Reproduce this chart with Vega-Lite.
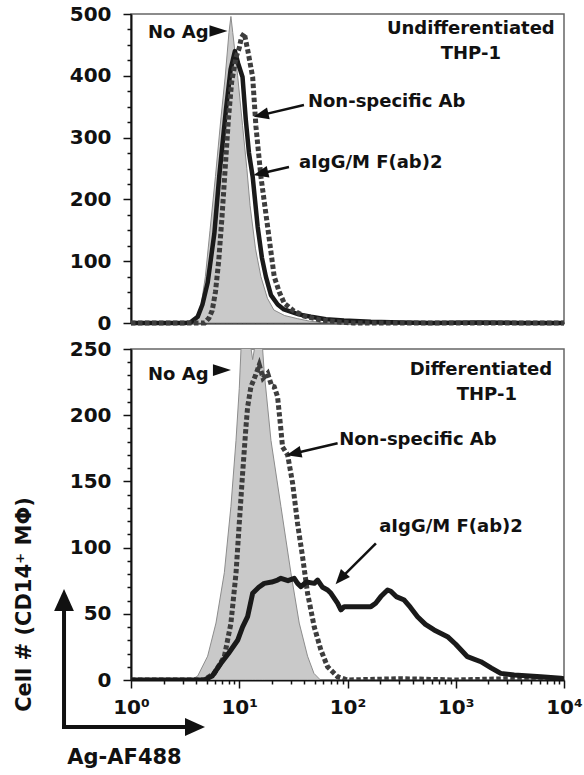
{
  "$schema": "https://vega.github.io/schema/vega-lite/v6.json",
  "background": "white",
  "padding": {"left": 12, "top": 3, "right": 0, "bottom": 0},
  "config": {
    "view": {"stroke": "#666", "strokeWidth": 1.5},
    "font": "DejaVu Sans",
    "axis": {"grid": false, "labelFont": "DejaVu Sans", "labelFontWeight": "bold", "labelFontSize": 20, "labelColor": "#111", "tickColor": "#111", "tickWidth": 1.5, "domainColor": "#111", "domainWidth": 2, "labelOverlap": false, "labelFlush": false, "titleFont": "DejaVu Sans", "titleFontWeight": "bold", "titleColor": "#111"}
  },
  "datasets": {
    "top_curves": [
      {"series": "No Ag", "x": 1, "y": 0}, {"series": "No Ag", "x": 2.818, "y": 0}, {"series": "No Ag", "x": 3.436, "y": 1}, {"series": "No Ag", "x": 3.89, "y": 5}, {"series": "No Ag", "x": 4.365, "y": 20}, {"series": "No Ag", "x": 4.864, "y": 75}, {"series": "No Ag", "x": 5.37, "y": 150}, {"series": "No Ag", "x": 6.026, "y": 237}, {"series": "No Ag", "x": 6.761, "y": 330}, {"series": "No Ag", "x": 7.413, "y": 398}, {"series": "No Ag", "x": 8.035, "y": 470}, {"series": "No Ag", "x": 8.375, "y": 496}, {"series": "No Ag", "x": 8.71, "y": 470}, {"series": "No Ag", "x": 9.661, "y": 400}, {"series": "No Ag", "x": 10.72, "y": 320}, {"series": "No Ag", "x": 11.75, "y": 250}, {"series": "No Ag", "x": 12.59, "y": 190}, {"series": "No Ag", "x": 14.13, "y": 120}, {"series": "No Ag", "x": 15.85, "y": 75}, {"series": "No Ag", "x": 18.2, "y": 40}, {"series": "No Ag", "x": 20.89, "y": 21}, {"series": "No Ag", "x": 26.3, "y": 12}, {"series": "No Ag", "x": 34.67, "y": 7}, {"series": "No Ag", "x": 44.67, "y": 3}, {"series": "No Ag", "x": 56.23, "y": 1}, {"series": "No Ag", "x": 79.43, "y": 0}, {"series": "No Ag", "x": 10000, "y": 0},
      {"series": "aIgG", "x": 1, "y": 0}, {"series": "aIgG", "x": 3.162, "y": 0}, {"series": "aIgG", "x": 3.548, "y": 1}, {"series": "aIgG", "x": 4.13, "y": 10}, {"series": "aIgG", "x": 4.571, "y": 30}, {"series": "aIgG", "x": 5.105, "y": 65}, {"series": "aIgG", "x": 5.888, "y": 145}, {"series": "aIgG", "x": 6.531, "y": 237}, {"series": "aIgG", "x": 7.534, "y": 345}, {"series": "aIgG", "x": 8.318, "y": 410}, {"series": "aIgG", "x": 9.12, "y": 440}, {"series": "aIgG", "x": 9.772, "y": 420}, {"series": "aIgG", "x": 10.72, "y": 398}, {"series": "aIgG", "x": 11.48, "y": 330}, {"series": "aIgG", "x": 12.3, "y": 275}, {"series": "aIgG", "x": 13.3, "y": 237}, {"series": "aIgG", "x": 14.79, "y": 156}, {"series": "aIgG", "x": 16.22, "y": 105}, {"series": "aIgG", "x": 17.62, "y": 75}, {"series": "aIgG", "x": 19.63, "y": 45}, {"series": "aIgG", "x": 22.65, "y": 30}, {"series": "aIgG", "x": 25.88, "y": 22}, {"series": "aIgG", "x": 35.48, "y": 14}, {"series": "aIgG", "x": 45.92, "y": 10}, {"series": "aIgG", "x": 63.1, "y": 6}, {"series": "aIgG", "x": 92.68, "y": 4}, {"series": "aIgG", "x": 164.4, "y": 2}, {"series": "aIgG", "x": 316.2, "y": 1}, {"series": "aIgG", "x": 588.8, "y": 0}, {"series": "aIgG", "x": 1585, "y": 1}, {"series": "aIgG", "x": 3981, "y": 0}, {"series": "aIgG", "x": 10000, "y": 0},
      {"series": "Non-specific", "x": 1, "y": 0}, {"series": "Non-specific", "x": 3.981, "y": 0}, {"series": "Non-specific", "x": 4.786, "y": 0}, {"series": "Non-specific", "x": 5.248, "y": 8}, {"series": "Non-specific", "x": 5.623, "y": 20}, {"series": "Non-specific", "x": 6.026, "y": 50}, {"series": "Non-specific", "x": 6.457, "y": 100}, {"series": "Non-specific", "x": 6.918, "y": 170}, {"series": "Non-specific", "x": 7.413, "y": 250}, {"series": "Non-specific", "x": 7.943, "y": 330}, {"series": "Non-specific", "x": 8.511, "y": 390}, {"series": "Non-specific", "x": 9.333, "y": 430}, {"series": "Non-specific", "x": 10, "y": 445}, {"series": "Non-specific", "x": 10.47, "y": 462}, {"series": "Non-specific", "x": 11.12, "y": 469}, {"series": "Non-specific", "x": 12.02, "y": 440}, {"series": "Non-specific", "x": 13.3, "y": 398}, {"series": "Non-specific", "x": 14.26, "y": 318}, {"series": "Non-specific", "x": 15.85, "y": 237}, {"series": "Non-specific", "x": 18.28, "y": 156}, {"series": "Non-specific", "x": 21.04, "y": 75}, {"series": "Non-specific", "x": 23.44, "y": 50}, {"series": "Non-specific", "x": 26.06, "y": 32}, {"series": "Non-specific", "x": 31.62, "y": 20}, {"series": "Non-specific", "x": 39.81, "y": 11}, {"series": "Non-specific", "x": 56.23, "y": 5}, {"series": "Non-specific", "x": 79.43, "y": 2}, {"series": "Non-specific", "x": 112.2, "y": 0}, {"series": "Non-specific", "x": 10000, "y": 0}
    ],
    "bot_curves": [
      {"series": "No Ag", "x": 1, "y": 0}, {"series": "No Ag", "x": 3.581, "y": 0}, {"series": "No Ag", "x": 4.13, "y": 3}, {"series": "No Ag", "x": 5.105, "y": 18}, {"series": "No Ag", "x": 6.095, "y": 43}, {"series": "No Ag", "x": 7.278, "y": 81}, {"series": "No Ag", "x": 8.375, "y": 131}, {"series": "No Ag", "x": 9.333, "y": 181}, {"series": "No Ag", "x": 10, "y": 220}, {"series": "No Ag", "x": 10.38, "y": 250}, {"series": "No Ag", "x": 11.48, "y": 262}, {"series": "No Ag", "x": 12.59, "y": 255}, {"series": "No Ag", "x": 13.3, "y": 242}, {"series": "No Ag", "x": 14.13, "y": 255}, {"series": "No Ag", "x": 15.31, "y": 262}, {"series": "No Ag", "x": 16.44, "y": 250}, {"series": "No Ag", "x": 17.02, "y": 232}, {"series": "No Ag", "x": 19.63, "y": 181}, {"series": "No Ag", "x": 24.27, "y": 131}, {"series": "No Ag", "x": 29.99, "y": 81}, {"series": "No Ag", "x": 35.81, "y": 43}, {"series": "No Ag", "x": 42.76, "y": 18}, {"series": "No Ag", "x": 48.98, "y": 5}, {"series": "No Ag", "x": 56.23, "y": 0}, {"series": "No Ag", "x": 10000, "y": 0},
      {"series": "aIgG", "x": 1, "y": 0}, {"series": "aIgG", "x": 4.753, "y": 0}, {"series": "aIgG", "x": 5.623, "y": 3}, {"series": "aIgG", "x": 6.776, "y": 12.6}, {"series": "aIgG", "x": 7.943, "y": 20}, {"series": "aIgG", "x": 9.661, "y": 30}, {"series": "aIgG", "x": 10.72, "y": 40}, {"series": "aIgG", "x": 11.94, "y": 47.8}, {"series": "aIgG", "x": 13.3, "y": 65.5}, {"series": "aIgG", "x": 15.14, "y": 70}, {"series": "aIgG", "x": 17.02, "y": 73}, {"series": "aIgG", "x": 19.95, "y": 74}, {"series": "aIgG", "x": 22.59, "y": 75.5}, {"series": "aIgG", "x": 24.27, "y": 76.8}, {"series": "aIgG", "x": 28.18, "y": 75}, {"series": "aIgG", "x": 32.21, "y": 76.8}, {"series": "aIgG", "x": 34.59, "y": 73}, {"series": "aIgG", "x": 37.15, "y": 70.5}, {"series": "aIgG", "x": 41.69, "y": 74}, {"series": "aIgG", "x": 49.32, "y": 73}, {"series": "aIgG", "x": 52.97, "y": 75.5}, {"series": "aIgG", "x": 58.88, "y": 70}, {"series": "aIgG", "x": 65.46, "y": 68}, {"series": "aIgG", "x": 70.31, "y": 65.5}, {"series": "aIgG", "x": 80.91, "y": 58}, {"series": "aIgG", "x": 86.9, "y": 53}, {"series": "aIgG", "x": 93.33, "y": 55.4}, {"series": "aIgG", "x": 123.9, "y": 55.4}, {"series": "aIgG", "x": 164.4, "y": 55.4}, {"series": "aIgG", "x": 182, "y": 58}, {"series": "aIgG", "x": 203.2, "y": 63}, {"series": "aIgG", "x": 234.4, "y": 68}, {"series": "aIgG", "x": 251.2, "y": 67}, {"series": "aIgG", "x": 281.8, "y": 63}, {"series": "aIgG", "x": 334.2, "y": 60.4}, {"series": "aIgG", "x": 380.2, "y": 55}, {"series": "aIgG", "x": 443.6, "y": 47.8}, {"series": "aIgG", "x": 524.8, "y": 42}, {"series": "aIgG", "x": 631, "y": 37.8}, {"series": "aIgG", "x": 839.5, "y": 32.7}, {"series": "aIgG", "x": 1000, "y": 27}, {"series": "aIgG", "x": 1282, "y": 17.6}, {"series": "aIgG", "x": 1706, "y": 13.8}, {"series": "aIgG", "x": 2138, "y": 9}, {"series": "aIgG", "x": 2606, "y": 5}, {"series": "aIgG", "x": 3467, "y": 3.8}, {"series": "aIgG", "x": 6109, "y": 2.5}, {"series": "aIgG", "x": 9333, "y": 1.3}, {"series": "aIgG", "x": 10000, "y": 1},
      {"series": "Non-specific", "x": 1, "y": 0}, {"series": "Non-specific", "x": 4.753, "y": 0}, {"series": "Non-specific", "x": 5.875, "y": 5}, {"series": "Non-specific", "x": 7.278, "y": 17.6}, {"series": "Non-specific", "x": 8.375, "y": 42.8}, {"series": "Non-specific", "x": 9.333, "y": 80.6}, {"series": "Non-specific", "x": 10, "y": 118}, {"series": "Non-specific", "x": 10.74, "y": 156}, {"series": "Non-specific", "x": 11.53, "y": 191}, {"series": "Non-specific", "x": 11.94, "y": 206}, {"series": "Non-specific", "x": 12.82, "y": 221.5}, {"series": "Non-specific", "x": 14.13, "y": 230}, {"series": "Non-specific", "x": 15.31, "y": 238}, {"series": "Non-specific", "x": 16.6, "y": 228}, {"series": "Non-specific", "x": 18.28, "y": 231.6}, {"series": "Non-specific", "x": 19.95, "y": 222}, {"series": "Non-specific", "x": 21.04, "y": 221.5}, {"series": "Non-specific", "x": 22.59, "y": 214}, {"series": "Non-specific", "x": 23.93, "y": 194}, {"series": "Non-specific", "x": 25.12, "y": 176}, {"series": "Non-specific", "x": 27.99, "y": 170}, {"series": "Non-specific", "x": 31.12, "y": 148.6}, {"series": "Non-specific", "x": 34.59, "y": 118}, {"series": "Non-specific", "x": 38.46, "y": 93}, {"series": "Non-specific", "x": 42.76, "y": 65.5}, {"series": "Non-specific", "x": 49.32, "y": 40}, {"series": "Non-specific", "x": 56.75, "y": 22.7}, {"series": "Non-specific", "x": 65.46, "y": 10}, {"series": "Non-specific", "x": 80.91, "y": 2.5}, {"series": "Non-specific", "x": 100, "y": 0}, {"series": "Non-specific", "x": 316.2, "y": 1}, {"series": "Non-specific", "x": 1000, "y": 0}, {"series": "Non-specific", "x": 3162, "y": 1}, {"series": "Non-specific", "x": 10000, "y": 0}
    ],
    "top_notes": [
      {"kind": "tag", "label": "No Ag", "x": 1.436, "y": 469},
      {"kind": "marker", "label": "", "x": 6.43, "y": 472.5},
      {"kind": "title", "label": "Undifferentiated", "x": 1378, "y": 476.5},
      {"kind": "title", "label": "THP-1", "x": 1378, "y": 436},
      {"kind": "callout", "label": "Non-specific Ab", "x": 43.1, "y": 357.6},
      {"kind": "callout", "label": "aIgG/M F(ab)2", "x": 35.6, "y": 258.9}
    ],
    "bot_notes": [
      {"kind": "tag", "label": "No Ag", "x": 1.436, "y": 230.4},
      {"kind": "marker", "label": "", "x": 6.92, "y": 234.1},
      {"kind": "title", "label": "Differentiated", "x": 1706, "y": 234.1},
      {"kind": "title", "label": "THP-1", "x": 1936, "y": 215.3},
      {"kind": "callout", "label": "Non-specific Ab", "x": 83.8, "y": 181.3},
      {"kind": "callout", "label": "aIgG/M F(ab)2", "x": 196.3, "y": 115.8}
    ],
    "top_arrows": [
      {"target": "Non-specific Ab", "x": 39.6, "y": 352.7, "x2": 15.9, "y2": 336.4},
      {"target": "aIgG/M F(ab)2", "x": 28.8, "y": 252.4, "x2": 15.8, "y2": 242}
    ],
    "bot_arrows": [
      {"target": "Non-specific Ab", "x": 81, "y": 178.8, "x2": 31.9, "y2": 171.1},
      {"target": "aIgG/M F(ab)2", "x": 183, "y": 103.2, "x2": 86.2, "y2": 76.5}
    ],
    "bot_axes": [
      {"dir": "up", "x": 0.2406, "y": -35.5, "x2": 0.2406, "y2": 60.4},
      {"dir": "right", "x": 0.2406, "y": -35.5, "x2": 3.9, "y2": -35.5}
    ]
  },
  "spacing": 26,
  "bounds": "flush",
  "vconcat": [
    {
      "width": 433,
      "height": 309,
      "encoding": {
        "x": {"field": "x", "type": "quantitative", "scale": {"type": "log", "domain": [1, 10000], "nice": false}, "axis": {"labels": false, "ticks": false, "title": null}},
        "y": {"field": "y", "type": "quantitative", "scale": {"domain": [0, 500], "nice": false}, "axis": {"values": [0, 25, 50, 75, 100, 125, 150, 175, 200, 225, 250, 275, 300, 325, 350, 375, 400, 425, 450, 475, 500], "labelExpr": "datum.value % 100 === 0 ? datum.label : ''", "tickSize": {"condition": {"test": "datum.value % 100 !== 0", "value": 4}, "value": 8}, "labelPadding": 12, "title": null}}
      },
      "layer": [
        {"data": {"name": "top_curves"}, "transform": [{"filter": "datum.series === 'No Ag'"}], "mark": {"type": "area", "fill": "#c9c9c9", "stroke": "#8c8c8c", "strokeWidth": 1}},
        {"data": {"name": "top_curves"}, "transform": [{"filter": "datum.series === 'aIgG'"}], "mark": {"type": "line", "stroke": "#1a1a1a", "strokeWidth": 4.5, "strokeJoin": "round"}},
        {"data": {"name": "top_curves"}, "transform": [{"filter": "datum.series === 'Non-specific'"}], "mark": {"type": "line", "stroke": "#3d3d3d", "strokeWidth": 5, "strokeDash": [4.5, 2.5]}},
        {"data": {"name": "top_arrows"}, "mark": {"type": "rule", "stroke": "#111", "strokeWidth": 2.5}, "encoding": {"x2": {"field": "x2"}, "y2": {"field": "y2"}}},
        {"data": {"name": "top_arrows"}, "mark": {"type": "point", "shape": "M -1 -0.8 L 1 0 L -1 0.8 Z", "filled": true, "fill": "#111", "strokeWidth": 0, "size": 225, "angle": 167, "opacity": 1},
         "encoding": {"x": {"field": "x2", "type": "quantitative", "scale": {"type": "log", "domain": [1, 10000], "nice": false}}, "y": {"field": "y2", "type": "quantitative", "scale": {"domain": [0, 500], "nice": false}}}},
        {"data": {"name": "top_notes"}, "transform": [{"filter": "datum.kind === 'marker'"}], "mark": {"type": "point", "shape": "M -1 -0.65 L 1 0 L -1 0.65 Z", "filled": true, "fill": "#111", "strokeWidth": 0, "size": 324, "opacity": 1}},
        {"data": {"name": "top_notes"}, "transform": [{"filter": "datum.kind === 'tag' || datum.kind === 'callout'"}], "mark": {"type": "text", "align": "left", "baseline": "middle", "font": "DejaVu Sans", "fontWeight": "bold", "fontSize": 18, "color": "#111"}, "encoding": {"text": {"field": "label"}}},
        {"data": {"name": "top_notes"}, "transform": [{"filter": "datum.kind === 'title'"}], "mark": {"type": "text", "align": "center", "baseline": "middle", "font": "DejaVu Sans", "fontWeight": "bold", "fontSize": 18, "color": "#111"}, "encoding": {"text": {"field": "label"}}}
      ]
    },
    {
      "width": 433,
      "height": 331,
      "encoding": {
        "x": {"field": "x", "type": "quantitative", "scale": {"type": "log", "domain": [1, 10000], "nice": false},
          "axis": {"values": [1, 2, 3, 4, 5, 6, 7, 8, 9, 10, 20, 30, 40, 50, 60, 70, 80, 90, 100, 200, 300, 400, 500, 600, 700, 800, 900, 1000, 2000, 3000, 4000, 5000, 6000, 7000, 8000, 9000, 10000],
            "labelExpr": "datum.value === 1 ? '10⁰' : datum.value === 10 ? '10¹' : datum.value === 100 ? '10²' : datum.value === 1000 ? '10³' : datum.value === 10000 ? '10⁴' : ''",
            "tickSize": {"condition": {"test": "indexof([1, 10, 100, 1000, 10000], datum.value) < 0", "value": 4}, "value": 8},
            "labelPadding": 9,
            "title": "Ag-AF488", "titleFontSize": 21, "titleX": -7, "titleY": 77, "titleAlign": "center", "titleBaseline": "middle"}},
        "y": {"field": "y", "type": "quantitative", "scale": {"domain": [0, 250], "nice": false},
          "axis": {"values": [0, 10, 20, 30, 40, 50, 60, 70, 80, 90, 100, 110, 120, 130, 140, 150, 160, 170, 180, 190, 200, 210, 220, 230, 240, 250], "labelExpr": "datum.value % 50 === 0 ? datum.label : ''", "tickSize": {"condition": {"test": "datum.value % 50 !== 0", "value": 4}, "value": 8}, "labelPadding": 12,
            "title": "Cell # (CD14⁺ MΦ)", "titleFontSize": 21, "titleX": -107, "titleY": 255, "titleAngle": 270, "titleAlign": "center", "titleBaseline": "middle"}}
      },
      "layer": [
        {"data": {"name": "bot_curves"}, "transform": [{"filter": "datum.series === 'No Ag'"}], "mark": {"type": "area", "fill": "#c9c9c9", "stroke": "#8c8c8c", "strokeWidth": 1, "clip": true}},
        {"data": {"name": "bot_curves"}, "transform": [{"filter": "datum.series === 'Non-specific'"}], "mark": {"type": "line", "stroke": "#3d3d3d", "strokeWidth": 5, "strokeDash": [4.5, 2.5], "clip": true}},
        {"data": {"name": "bot_curves"}, "transform": [{"filter": "datum.series === 'aIgG'"}], "mark": {"type": "line", "stroke": "#1a1a1a", "strokeWidth": 5, "strokeJoin": "round", "clip": true}},
        {"data": {"name": "bot_arrows"}, "mark": {"type": "rule", "stroke": "#111", "strokeWidth": 2.5}, "encoding": {"x2": {"field": "x2"}, "y2": {"field": "y2"}}},
        {"data": {"name": "bot_arrows"}, "transform": [{"filter": "datum.target === 'Non-specific Ab'"}], "mark": {"type": "point", "shape": "M -1 -0.8 L 1 0 L -1 0.8 Z", "filled": true, "fill": "#111", "strokeWidth": 0, "size": 225, "angle": 167, "opacity": 1},
         "encoding": {"x": {"field": "x2", "type": "quantitative", "scale": {"type": "log", "domain": [1, 10000], "nice": false}}, "y": {"field": "y2", "type": "quantitative", "scale": {"domain": [0, 250], "nice": false}}}},
        {"data": {"name": "bot_arrows"}, "transform": [{"filter": "datum.target === 'aIgG/M F(ab)2'"}], "mark": {"type": "point", "shape": "M -1 -0.8 L 1 0 L -1 0.8 Z", "filled": true, "fill": "#111", "strokeWidth": 0, "size": 225, "angle": 131, "opacity": 1},
         "encoding": {"x": {"field": "x2", "type": "quantitative", "scale": {"type": "log", "domain": [1, 10000], "nice": false}}, "y": {"field": "y2", "type": "quantitative", "scale": {"domain": [0, 250], "nice": false}}}},
        {"data": {"name": "bot_axes"}, "mark": {"type": "rule", "stroke": "#111", "strokeWidth": 4, "strokeCap": "square"}, "encoding": {"x2": {"field": "x2"}, "y2": {"field": "y2"}}},
        {"data": {"name": "bot_axes"}, "transform": [{"filter": "datum.dir === 'up'"}], "mark": {"type": "point", "shape": "M -0.9 1 L 0 -1 L 0.9 1 Z", "filled": true, "fill": "#111", "strokeWidth": 0, "size": 484, "opacity": 1},
         "encoding": {"y": {"field": "y2", "type": "quantitative", "scale": {"domain": [0, 250], "nice": false}}}},
        {"data": {"name": "bot_axes"}, "transform": [{"filter": "datum.dir === 'right'"}], "mark": {"type": "point", "shape": "M -1 -0.9 L 1 0 L -1 0.9 Z", "filled": true, "fill": "#111", "strokeWidth": 0, "size": 400, "opacity": 1},
         "encoding": {"x": {"field": "x2", "type": "quantitative", "scale": {"type": "log", "domain": [1, 10000], "nice": false}}}},
        {"data": {"name": "bot_notes"}, "transform": [{"filter": "datum.kind === 'marker'"}], "mark": {"type": "point", "shape": "M -1 -0.65 L 1 0 L -1 0.65 Z", "filled": true, "fill": "#111", "strokeWidth": 0, "size": 324, "opacity": 1}},
        {"data": {"name": "bot_notes"}, "transform": [{"filter": "datum.kind === 'tag' || datum.kind === 'callout'"}], "mark": {"type": "text", "align": "left", "baseline": "middle", "font": "DejaVu Sans", "fontWeight": "bold", "fontSize": 18, "color": "#111"}, "encoding": {"text": {"field": "label"}}},
        {"data": {"name": "bot_notes"}, "transform": [{"filter": "datum.kind === 'title'"}], "mark": {"type": "text", "align": "center", "baseline": "middle", "font": "DejaVu Sans", "fontWeight": "bold", "fontSize": 18, "color": "#111"}, "encoding": {"text": {"field": "label"}}}
      ]
    }
  ]
}
